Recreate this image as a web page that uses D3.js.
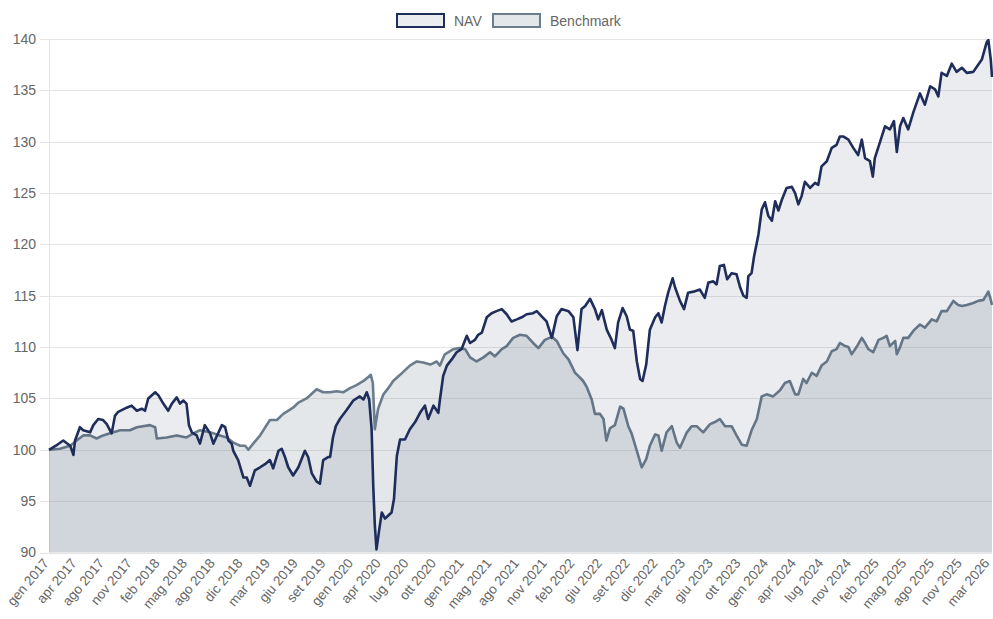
<!DOCTYPE html>
<html lang="it">
<head>
<meta charset="utf-8">
<script src="https://cdn.jsdelivr.net/npm/d3@7/dist/d3.min.js"></script>
<title>NAV vs Benchmark</title>
<style>
  body { margin: 0; background: #fff; }
  svg { display: block; font-family: "Liberation Sans", Arial, Helvetica, sans-serif; }
  .grid line { stroke: #e5e5e5; stroke-width: 1px; }
  .axis text { fill: #666; }
</style>
</head>
<body>
<script>
var width = 993, height = 619;

// etichette asse x (una ogni 68 sedute)
var tickLabels = ["gen 2017","apr 2017","ago 2017","nov 2017","feb 2018","mag 2018","ago 2018","dic 2018",
  "mar 2019","giu 2019","set 2019","gen 2020","apr 2020","lug 2020","ott 2020","gen 2021","mag 2021",
  "ago 2021","nov 2021","feb 2022","giu 2022","set 2022","dic 2022","mar 2023","giu 2023","ott 2023",
  "gen 2024","apr 2024","lug 2024","nov 2024","feb 2025","mag 2025","ago 2025","nov 2025","mar 2026"];
var tickStep = 68;
var lastObs = 2318;

var yTicks = [90, 95, 100, 105, 110, 115, 120, 125, 130, 135, 140];

// NAV: seduta campionata e valore
var navObs = [0,17,35,52,60,64,76,84,101,109,
  121,133,142,150,154,162,170,191,203,216,
  228,236,244,261,269,281,293,302,314,322,
  330,338,344,351,363,371,383,396,404,412,
  425,433,441,449,453,465,478,486,494,506,
  519,531,543,551,564,572,580,588,600,613,
  629,637,646,658,666,674,687,691,698,705,
  715,732,748,764,773,781,787,793,797,801,
  805,812,818,826,834,842,848,855,863,875,
  887,900,912,924,932,945,957,961,969,978,
  990,1002,1014,1027,1035,1047,1055,1064,1076,1088,
  1100,1113,1125,1137,1150,1162,1174,1190,1199,1211,
  1223,1236,1248,1260,1277,1289,1299,1309,1318,1330,
  1342,1350,1359,1371,1383,1391,1399,1410,1420,1428,
  1436,1445,1453,1459,1468,1477,1490,1498,1506,1514,
  1522,1533,1539,1551,1561,1571,1584,1600,1612,1621,
  1633,1641,1649,1659,1667,1678,1690,1699,1707,1715,
  1719,1727,1733,1744,1752,1760,1768,1777,1785,1793,
  1801,1813,1826,1834,1842,1850,1858,1871,1883,1891,
  1899,1912,1924,1936,1944,1953,1965,1977,1989,1998,
  2006,2018,2025,2030,2043,2055,2067,2077,2084,2092,
  2100,2112,2125,2141,2153,2166,2178,2186,2194,2207,
  2219,2231,2244,2256,2272,2284,2293,2305,2309,2315,
  2318];

var navValues = [100.0,100.4,100.9,100.4,99.5,100.9,102.2,101.9,101.7,102.4,
  103.0,102.9,102.5,101.9,101.6,103.3,103.7,104.1,104.3,103.8,
  104.0,103.8,105.0,105.6,105.3,104.5,103.8,104.5,105.1,104.5,
  104.8,104.5,102.4,101.7,101.4,100.6,102.4,101.6,100.6,101.3,
  102.4,102.2,100.9,100.6,99.9,99.0,97.3,97.3,96.5,98.0,
  98.3,98.6,99.0,98.2,99.9,100.1,99.3,98.3,97.5,98.3,
  99.9,99.3,97.7,96.9,96.7,99.0,99.3,99.3,101.2,102.3,
  103.0,103.9,104.8,105.2,104.9,105.6,104.9,102.0,96.5,92.6,
  90.3,92.3,93.9,93.3,93.6,93.9,95.2,99.4,101.0,101.0,
  102.0,102.7,103.6,104.3,103.0,104.3,103.6,104.9,107.2,108.2,
  108.8,109.5,109.8,111.1,110.4,110.7,111.2,111.4,112.9,113.3,
  113.5,113.7,113.2,112.5,112.7,112.9,113.2,113.3,113.5,113.0,
  112.5,110.9,113.0,113.7,113.5,112.9,109.7,113.7,114.0,114.7,
  113.7,112.7,113.6,111.7,110.7,109.9,112.4,113.8,113.0,111.7,
  111.6,108.6,106.9,106.7,108.3,111.7,112.9,113.3,112.4,114.0,
  115.3,116.7,115.8,114.5,113.7,115.3,115.4,115.6,114.8,116.3,
  116.4,116.1,117.9,118.0,116.6,117.2,117.1,115.8,115.0,114.8,
  116.9,117.2,118.8,121.0,123.4,124.1,122.8,122.3,124.2,123.3,
  124.3,125.5,125.6,125.0,123.9,124.7,126.1,125.5,126.0,125.8,
  127.6,128.1,129.4,129.7,130.5,130.5,130.2,129.4,128.7,130.2,
  128.4,128.1,126.6,128.4,130.0,131.5,131.2,132.0,129.0,131.5,
  132.3,131.2,132.9,134.7,133.6,135.4,135.1,134.4,136.7,136.4,
  137.6,136.8,137.2,136.7,136.8,137.5,138.0,139.7,139.9,138.0,
  136.3];

// Benchmark: seduta campionata e valore
var benchObs = [0,27,52,68,84,101,117,133,150,175,
  199,216,248,261,265,289,314,338,355,371,
  396,420,437,453,470,482,490,502,519,543,
  560,576,600,613,633,658,674,691,707,723,
  740,756,773,785,791,796,801,809,822,834,
  846,863,887,904,920,937,953,961,973,994,
  1010,1023,1035,1051,1068,1084,1096,1113,1125,1141,
  1158,1174,1190,1203,1219,1236,1248,1264,1277,1293,
  1301,1313,1322,1334,1342,1354,1363,1370,1379,1391,
  1404,1412,1424,1432,1445,1457,1468,1477,1490,1498,
  1506,1518,1531,1543,1551,1568,1580,1592,1608,1625,
  1637,1649,1662,1678,1690,1703,1715,1727,1740,1752,
  1764,1780,1797,1809,1821,1834,1842,1854,1862,1875,
  1887,1899,1912,1924,1936,1944,1957,1965,1973,1985,
  1998,2006,2014,2026,2039,2051,2059,2067,2080,2084,
  2092,2100,2112,2125,2141,2153,2170,2182,2194,2207,
  2223,2235,2244,2256,2272,2284,2297,2309,2315,2318];

var benchValues = [100.0,100.1,100.4,100.9,101.4,101.4,101.1,101.4,101.6,101.9,
  101.9,102.2,102.4,102.2,101.1,101.2,101.4,101.2,101.6,101.9,
  101.7,101.4,101.2,100.7,100.4,100.4,100.0,100.6,101.4,102.9,
  102.9,103.5,104.1,104.6,105.0,105.9,105.6,105.6,105.7,105.6,
  106.0,106.3,106.7,107.1,107.3,106.5,102.0,104.0,105.4,106.0,
  106.7,107.3,108.2,108.6,108.5,108.3,108.6,108.2,109.3,109.8,
  109.9,109.8,109.0,108.6,109.0,109.5,109.1,109.8,110.1,110.9,
  111.2,111.1,110.4,109.9,110.7,111.0,110.6,109.4,108.8,107.5,
  107.2,106.7,106.1,104.9,103.5,103.5,103.0,100.9,102.1,102.4,
  104.2,104.0,102.3,101.6,99.9,98.3,99.1,100.4,101.5,101.4,
  99.9,101.7,102.3,100.7,100.2,101.7,102.3,102.3,101.7,102.5,
  102.7,103.0,102.3,102.3,101.4,100.5,100.4,101.9,103.0,105.2,
  105.4,105.2,105.8,106.5,106.7,105.4,105.4,106.9,106.5,107.5,
  107.2,108.2,108.6,109.6,109.8,110.4,110.1,110.0,109.3,110.0,
  110.9,110.4,109.8,109.5,110.7,110.9,111.1,110.1,110.6,109.3,
  110.0,110.9,110.9,111.6,112.2,111.9,112.7,112.5,113.5,113.5,
  114.5,114.1,114.0,114.1,114.3,114.5,114.6,115.4,114.6,114.1];

var series = [
  { name: "NAV", obs: navObs, values: navValues, line: "#1f2d5b", fill: "rgba(31,45,91,0.09)" },
  { name: "Benchmark", obs: benchObs, values: benchValues, line: "#6b7d8c", fill: "rgba(107,125,140,0.19)" }
];

var plotLeft = 49, plotRight = 992, plotTop = 39, plotBottom = 552.5;

var x = d3.scaleLinear().domain([0, lastObs]).range([plotLeft, plotRight]);
var y = d3.scaleLinear().domain([90, 140]).range([plotBottom, plotTop]);

var svg = d3.select("body").append("svg")
  .attr("width", width)
  .attr("height", height);

// griglia orizzontale
svg.append("g").attr("class", "grid")
  .selectAll("line").data(yTicks).enter().append("line")
  .attr("x1", plotLeft - 9).attr("x2", plotRight)
  .attr("y1", function(d){ return Math.round(y(d)) + 0.5; })
  .attr("y2", function(d){ return Math.round(y(d)) + 0.5; });

svg.append("line")
  .attr("x1", plotLeft + 0.5).attr("x2", plotLeft + 0.5)
  .attr("y1", plotTop).attr("y2", plotBottom)
  .attr("stroke", "#e5e5e5");

// asse y
var yAxis = svg.append("g").attr("class", "axis")
  .attr("transform", "translate(" + (plotLeft - 9) + ",0)")
  .call(d3.axisLeft(y).tickValues(yTicks).tickSize(0).tickPadding(4));
yAxis.select(".domain").remove();
yAxis.selectAll("text").style("font-size", "14px");

// aree e linee: prima il benchmark, poi il NAV sopra
series.slice().reverse().forEach(function(s) {
  var area = d3.area()
    .x(function(d, i){ return x(s.obs[i]); })
    .y0(y(90))
    .y1(function(d){ return y(d); });
  var line = d3.line()
    .x(function(d, i){ return x(s.obs[i]); })
    .y(function(d){ return y(d); });

  svg.append("path").attr("d", area(s.values)).attr("fill", s.fill);
  svg.append("path").attr("d", line(s.values))
    .attr("fill", "none")
    .attr("stroke", s.line)
    .attr("stroke-width", 2.6)
    .attr("stroke-linejoin", "round");
});

// asse x con etichette ruotate
var xg = svg.append("g").attr("class", "axis");
xg.selectAll("text").data(tickLabels).enter().append("text")
  .attr("transform", function(d, i){
    return "translate(" + (x(i * tickStep) - 3) + "," + (plotBottom + 8) + ") rotate(-50)";
  })
  .attr("text-anchor", "end")
  .attr("dy", "0.35em")
  .style("font-size", "13.5px")
  .text(function(d){ return d; });

// legenda
var legend = svg.append("g").attr("class", "legend");
var lx = [397, 493];
series.forEach(function(s, i) {
  var g = legend.append("g").attr("transform", "translate(" + lx[i] + ",14)");
  g.append("rect")
    .attr("width", 47).attr("height", 13)
    .attr("fill", s.fill)
    .attr("stroke", s.line)
    .attr("stroke-width", 2);
  g.append("text")
    .attr("x", 57).attr("y", 7)
    .attr("dy", "0.35em")
    .attr("fill", "#666")
    .style("font-size", "14px")
    .text(s.name);
});
</script>
</body>
</html>
